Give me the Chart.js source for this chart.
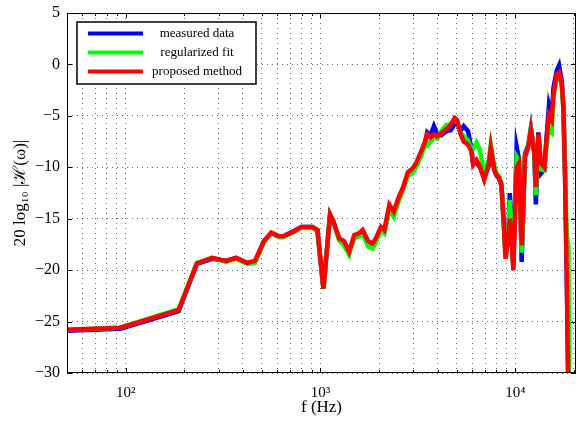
<!DOCTYPE html>
<html>
<head>
<meta charset="utf-8">
<script src="https://cdn.jsdelivr.net/npm/chart.js@4"></script>
<style>
  html, body { margin: 0; padding: 0; background: #fff; }
  #wrap { width: 576px; height: 421px; }
</style>
</head>
<body>
<div id="wrap"><canvas id="response"></canvas></div>
<script>
// frequencies (Hz) shared by the three curves
const freqHz = [50, 94, 187, 232, 278, 328, 369, 421, 461, 512, 559, 612, 644, 731, 798, 909, 965,
  1036, 1120, 1166, 1247, 1324, 1403, 1490, 1581, 1645, 1759, 1853, 1927, 2045, 2127, 2258, 2378,
  2512, 2648, 2808, 2979, 3098, 3288, 3420, 3532, 3673, 3822, 3978, 4170, 4425, 4659, 4885, 5024,
  5226, 5435, 5723, 5953, 6077, 6322, 6575, 6925, 7314, 7487, 7793, 8011, 8228, 8494, 8772, 8913,
  9201, 9377, 9654, 9772, 10163, 10446, 10788, 11220, 11677, 12032, 12527, 12760, 13139, 13556,
  14100, 14490, 14890, 15380, 15700, 16330, 16780, 17330, 17660, 18000, 18380, 18760, 18900];

const measured = [-25.9, -25.7, -24.0, -19.4, -18.9, -19.1, -18.8, -19.3, -19.2, -17.2, -16.4, -16.7,
  -16.7, -16.2, -15.8, -15.8, -16.1, -21.8, -14.6, -15.3, -17.0, -17.3, -18.3, -16.8, -16.6, -16.2,
  -17.5, -17.7, -17.0, -15.9, -16.3, -14.0, -14.6, -13.2, -12.1, -10.7, -10.3, -9.8, -8.6, -7.9,
  -6.6, -6.9, -6.0, -6.8, -6.9, -6.5, -6.4, -5.8, -5.6, -6.5, -6.0, -6.5, -8.2, -9.6, -9.6, -9.9,
  -11.0, -9.8, -8.3, -10.2, -10.8, -11.0, -11.8, -16.0, -18.6, -16.5, -12.5, -17.9, -19.6, -8.0,
  -9.2, -19.2, -8.7, -7.8, -6.2, -8.7, -13.6, -6.6, -10.6, -10.2, -7.0, -4.0, -5.1, -2.3, -0.6,
  -0.1, -1.6, -4.0, -10.5, -20.5, -33, -34];

const regularized = [-25.8, -25.6, -23.8, -19.3, -18.8, -19.2, -18.9, -19.4, -19.3, -17.3, -16.4, -16.8,
  -16.8, -16.3, -15.9, -15.9, -16.2, -21.8, -14.6, -15.2, -17.1, -17.6, -18.5, -16.9, -16.7, -16.4,
  -17.7, -17.9, -17.3, -16.1, -16.4, -14.1, -14.8, -13.4, -12.3, -10.9, -10.5, -10.0, -8.9, -8.0,
  -7.9, -7.5, -7.1, -7.2, -6.5, -5.9, -5.8, -5.4, -5.5, -6.6, -7.0, -7.4, -8.3, -8.2, -7.6, -8.3,
  -10.6, -9.3, -7.8, -9.8, -10.6, -10.8, -11.5, -16.1, -18.7, -16.7, -13.2, -18.0, -19.8, -9.0,
  -9.4, -18.3, -8.9, -7.9, -6.3, -8.6, -12.7, -6.9, -10.2, -10.3, -7.9, -6.3, -6.6, -3.3, -1.2,
  -0.9, -2.0, -4.4, -10.2, -16.5, -17.8, -33];

const proposed = [-25.8, -25.6, -23.9, -19.35, -18.8, -19.1, -18.8, -19.3, -19.1, -17.2, -16.35, -16.7,
  -16.7, -16.25, -15.8, -15.8, -16.1, -21.8, -14.6, -15.3, -16.9, -17.2, -18.2, -16.6, -16.4, -16.1,
  -17.2, -17.4, -16.9, -15.8, -16.1, -13.65, -14.3, -13.0, -12.0, -10.5, -10.1, -9.6, -8.45, -7.65,
  -6.8, -7.1, -6.8, -7.0, -6.7, -6.3, -5.9, -5.2, -5.4, -6.7, -7.5, -7.8, -8.45, -9.75, -9.3, -9.9,
  -11.2, -9.75, -8.1, -10.2, -10.8, -11.0, -11.7, -16.25, -18.9, -16.9, -15.0, -18.2, -20.0, -10.0,
  -9.6, -17.6, -9.0, -8.0, -6.4, -8.5, -11.9, -6.8, -9.6, -10.0, -7.2, -4.9, -5.4, -2.9, -1.0,
  -0.8, -1.9, -4.2, -10.7, -20.5, -33, -34];

const yTicks = [-30, -25, -20, -15, -10, -5, 0, 5];
const xTicks = [50, 60, 70, 80, 90, 100, 200, 300, 400, 500, 600, 700, 800, 900,
  1000, 2000, 3000, 4000, 5000, 6000, 7000, 8000, 9000, 10000, 20000];
const xLabels = { 100: '10\u00b2', 1000: '10\u00b3', 10000: '10\u2074' };

const serif = "'Liberation Serif', 'DejaVu Serif', serif";

function toPoints(values) {
  return freqHz.map((f, i) => ({ x: f, y: values[i] }));
}

// box legend inside the plot, like the original figure
const boxLegend = {
  id: 'boxLegend',
  afterDatasetsDraw(chart) {
    const ctx = chart.ctx;
    const left = 77, top = 22, w = 179, h = 62;
    ctx.save();
    ctx.fillStyle = '#fff';
    ctx.fillRect(left, top, w, h);
    ctx.strokeStyle = '#000';
    ctx.lineWidth = 1.5;
    ctx.strokeRect(left, top, w, h);
    ctx.font = '13px ' + serif;
    ctx.textAlign = 'center';
    ctx.textBaseline = 'middle';
    chart.data.datasets.forEach((ds, i) => {
      const y = 33.5 + i * 19;
      ctx.strokeStyle = ds.borderColor;
      ctx.lineWidth = 4;
      ctx.beginPath();
      ctx.moveTo(88, y);
      ctx.lineTo(143, y);
      ctx.stroke();
      ctx.fillStyle = '#000';
      ctx.fillText(ds.label, 197, y);
    });
    ctx.restore();
  }
};

// frame with inward ticks on all four sides
const frame = {
  id: 'frame',
  afterDraw(chart) {
    const { ctx, chartArea: a, scales } = chart;
    ctx.save();
    ctx.strokeStyle = '#000';
    ctx.lineWidth = 1;
    ctx.strokeRect(a.left + 0.5, a.top + 0.5, a.right - a.left - 1, a.bottom - a.top - 1);
    ctx.beginPath();
    scales.y.ticks.forEach((t) => {
      const py = Math.round(scales.y.getPixelForValue(t.value)) + 0.5;
      ctx.moveTo(a.left, py); ctx.lineTo(a.left + 5, py);
      ctx.moveTo(a.right, py); ctx.lineTo(a.right - 5, py);
    });
    scales.x.ticks.forEach((t) => {
      const px = Math.round(scales.x.getPixelForValue(t.value)) + 0.5;
      const len = xLabels[t.value] ? 5 : 3;
      ctx.moveTo(px, a.bottom); ctx.lineTo(px, a.bottom - len);
      ctx.moveTo(px, a.top); ctx.lineTo(px, a.top + len);
    });
    ctx.stroke();
    ctx.restore();
  }
};

const dotted = {
  color: 'rgba(0, 0, 0, 0.6)',
  lineWidth: 1,
  drawTicks: false,
};

new Chart(document.getElementById('response'), {
  type: 'line',
  data: {
    datasets: [
      { label: 'measured data', data: toPoints(measured), borderColor: '#0000ff', order: 2 },
      { label: 'regularized fit', data: toPoints(regularized), borderColor: '#00ff00', order: 1 },
      { label: 'proposed method', data: toPoints(proposed), borderColor: '#ff0000', order: 0 },
    ],
  },
  options: {
    responsive: true,
    maintainAspectRatio: false,
    animation: false,
    layout: { padding: { top: 13, right: 0, left: 0, bottom: 0 } },
    elements: {
      line: { borderWidth: 4.5, tension: 0, fill: false },
      point: { radius: 0, hoverRadius: 0, borderWidth: 0 },
    },
    plugins: {
      legend: { display: false },
      tooltip: { enabled: false },
    },
    scales: {
      x: {
        type: 'logarithmic',
        min: 50,
        max: 20500,
        afterBuildTicks: (scale) => { scale.ticks = xTicks.map((v) => ({ value: v })); },
        afterFit: (scale) => {
          scale.height = 48;
          scale.paddingLeft = 0;
          scale.paddingRight = 0;
        },
        ticks: {
          autoSkip: false,
          maxRotation: 0,
          padding: 11,
          color: '#000',
          font: { family: serif, size: 15 },
          callback: (v) => xLabels[v] || '',
        },
        grid: dotted,
        border: { display: false, dash: [1, 4] },
        title: {
          display: true,
          text: 'f (Hz)',
          color: '#000',
          font: { family: serif, size: 17 },
          padding: { top: 0, bottom: 3 },
        },
      },
      y: {
        min: -30,
        max: 5,
        afterBuildTicks: (scale) => { scale.ticks = yTicks.map((v) => ({ value: v })); },
        afterFit: (scale) => {
          scale.width = 67;
          scale.paddingTop = 0;
          scale.paddingBottom = 0;
        },
        ticks: {
          padding: 7,
          color: '#000',
          font: { family: serif, size: 16 },
          callback: (v) => (v < 0 ? '\u2212' + Math.abs(v) : String(v)),
        },
        grid: dotted,
        border: { display: false, dash: [1, 4] },
        title: {
          display: true,
          text: '20 log\u2081\u2080 |\u210b(\u03c9)|',
          color: '#000',
          font: { family: serif, size: 17 },
          padding: { top: 10, bottom: 0 },
        },
      },
    },
  },
  plugins: [boxLegend, frame],
});
</script>
</body>
</html>
